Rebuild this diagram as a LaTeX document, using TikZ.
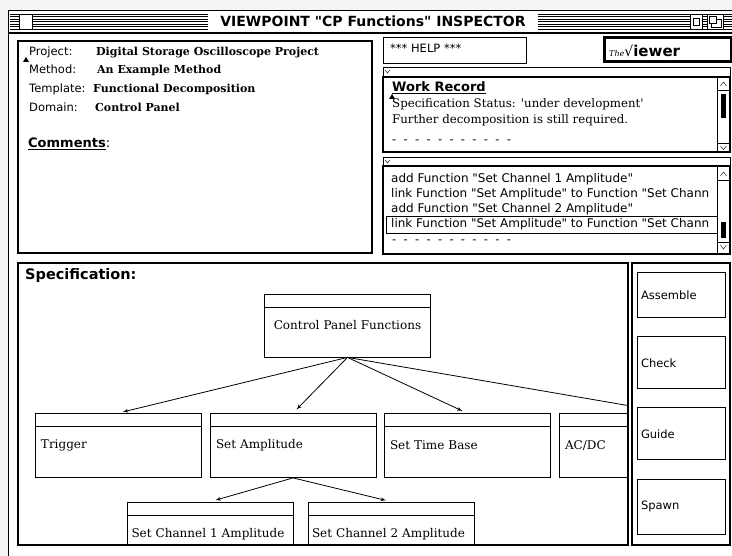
\documentclass[tikz,border=0pt]{standalone}
\usepackage{fontspec}
\setmainfont{DejaVu Serif}
\setsansfont{DejaVu Sans}
\newfontfamily\geneva{DejaVu Sans}
\newfontfamily\newyork{DejaVu Serif}
\usetikzlibrary{shapes,arrows}
\tikzstyle{func} = [rectangle, draw, line width=0.8pt, minimum width=166pt,
    minimum height=64pt, text width=154pt, inner xsep=6pt, align=left,
    font=\newyork\fontsize{12}{14}\selectfont,
    path picture={\draw ([yshift=-13pt]path picture bounding box.north west)
      -- ([yshift=-13pt]path picture bounding box.north east);}]
\tikzstyle{line} = [draw, line width=0.8pt, -latex', shorten >=5pt]
\tikzstyle{field} = [anchor=base west, inner sep=0pt,
    font=\geneva\fontsize{11.5}{14}\selectfont]
\tikzstyle{logline} = [anchor=base west, inner sep=0pt,
    font=\geneva\fontsize{12}{14}\selectfont]
\tikzstyle{entry} = [anchor=base west, inner sep=0pt,
    font=\newyork\bfseries\fontsize{11}{13}\selectfont]
\tikzstyle{note} = [anchor=base west, inner sep=0pt,
    font=\newyork\fontsize{11.8}{14}\selectfont]
\tikzstyle{heading} = [anchor=base west, inner sep=0pt,
    font=\geneva\bfseries\fontsize{13}{15}\selectfont]
\tikzstyle{btn} = [rectangle, draw, line width=1pt, minimum width=88pt,
    text width=80pt, inner xsep=4pt, align=left,
    font=\geneva\fontsize{11.5}{14}\selectfont]
\begin{document}
\begin{tikzpicture}[x=1pt, y=-1pt]
\useasboundingbox (0,0) rectangle (732,556);
\fill [gray!8] (0,0) rectangle (732,556);
\fill [white] (8,11) rectangle (732,556);
\draw [line width=1pt] (8,556) -- (8,11) -- (732,11);
\draw [line width=1.4pt] (8,33) -- (732,33);
\foreach \y in {14,16.5,...,29.5} {
  \draw [line width=0.6pt] (10,\y) -- (19,\y);
  \draw [line width=0.6pt] (32,\y) -- (208,\y);
  \draw [line width=0.6pt] (538,\y) -- (690,\y);
  \draw [line width=0.6pt] (702,\y) -- (707,\y);
  \draw [line width=0.6pt] (723,\y) -- (732,\y);
}
\draw [fill=white] (19,14) rectangle (32,29);
\draw [fill=white] (690,14) rectangle (702,29);
\draw (693,18) rectangle (699,25);
\draw [fill=white] (707,14) rectangle (723,29);
\draw (709,16) rectangle (716,23);
\draw (716,19) -- (721,19) -- (721,27) -- (711,27) -- (711,23);
\node [anchor=base, inner sep=0pt,
  font=\geneva\bfseries\fontsize{14}{16}\selectfont] (title) at (373,27)
  {VIEWPOINT "CP Functions" INSPECTOR};

\draw [line width=2pt] (18,41) rectangle (372,253);
\fill (23,62) -- (26,57) -- (29,62) -- cycle;
\node [field] (project) at (29,56) {Project:};
\node [field] (method) at (29,74) {Method:};
\node [field] (template) at (29,93) {Template:};
\node [field] (domain) at (29,112) {Domain:};
\node [entry] (projectname) at (96,56) {Digital Storage Oscilloscope Project};
\node [entry] (methodname) at (97,74) {An Example Method};
\node [entry] (templatename) at (93,93) {Functional Decomposition};
\node [entry] (domainname) at (95,112) {Control Panel};
\node [heading] (comments) at (28,148) {\underline{Comments}{\mdseries :}};

\draw [line width=0.8pt] (383,37) rectangle (526,63);
\node [field] (help) at (390,53) {*** HELP ***};
\draw [line width=3pt] (604,38) rectangle (731,62);
\node [anchor=base west, inner sep=0pt] (viewer) at (609,57)
  {{\newyork\itshape\fontsize{8}{8}\selectfont The}{\geneva\fontsize{14}{14}\selectfont √}{\geneva\bfseries\fontsize{15}{15}\selectfont iewer}};

\draw [line width=0.8pt] (383,67) rectangle (730,77);
\draw (385,70) -- (387.5,73) -- (390,70);
\draw [line width=1.6pt] (383,77) rectangle (730,152);
\draw (717,77) -- (717,152) (717,90) -- (730,90) (717,143) -- (730,143);
\draw (720.5,86) -- (723.5,82) -- (726.5,86);
\draw (720.5,146) -- (723.5,149.5) -- (726.5,146);
\fill (721,94) rectangle (726,118);
\node [heading] (workrecord) at (392,92) {\underline{Work Record}};
\fill (389,99) -- (392,94) -- (395,99) -- cycle;
\node [note] (status) at (392,108) {Specification Status: 'under development'};
\node [note] (further) at (392,124) {Further decomposition is still required.};
\node [field] (dashesa) at (392,144) {-\ \ -\ \ -\ \ -\ \ -\ \ -\ \ -\ \ -\ \ -\ \ -\ \ -};

\draw [line width=0.8pt] (383,157) rectangle (730,166);
\draw (385,160) -- (387.5,163) -- (390,160);
\draw [line width=1.6pt] (383,166) rectangle (730,254);
\draw (717,166) -- (717,254) (717,180) -- (730,180) (717,242) -- (730,242);
\draw (720.5,176) -- (723.5,172) -- (726.5,176);
\draw (720.5,245) -- (723.5,249) -- (726.5,245);
\fill (721,222) rectangle (726,238);
\node [logline] (adda) at (391,183) {add Function "Set Channel 1 Amplitude"};
\node [logline] (linka) at (391,198) {link Function "Set Amplitude" to Function "Set Chann};
\node [logline] (addb) at (391,213) {add Function "Set Channel 2 Amplitude"};
\node [logline] (linkb) at (391,228) {link Function "Set Amplitude" to Function "Set Chann};
\draw [line width=0.8pt] (386,216) rectangle (717,233);
\node [field] (dashesb) at (392,244) {-\ \ -\ \ -\ \ -\ \ -\ \ -\ \ -\ \ -\ \ -\ \ -\ \ -};

\draw [line width=1.2pt] (18,263) rectangle (628,545);
\node [heading, font=\geneva\bfseries\fontsize{14.5}{16}\selectfont] (spec) at (25,280) {Specification:};
\begin{scope}
\clip (18,263) rectangle (628,545);
\node [func, align=center, minimum height=63pt] (cpf) at (347.5,325.5) {Control Panel Functions};
\node [func] (trigger) at (118,445.5) {Trigger};
\node [func] (setamp) at (293,445.5) {Set Amplitude};
\node [func] (settime) at (467,445.5) {Set Time Base};
\node [func, text width=214pt] (acdc) at (672,445.5) {AC/DC};
\node [func, inner xsep=4pt, text width=158pt] (setchone) at (210.5,534) {Set Channel 1 Amplitude};
\node [func, inner xsep=4pt, text width=158pt] (setchtwo) at (391,534) {Set Channel 2 Amplitude};
\path [line] (cpf.south) -- (trigger.north);
\path [line] (cpf.south) -- (setamp.north);
\path [line] (cpf.south) -- (settime.north);
\path [line] (cpf.south) -- (acdc.north);
\path [line] (setamp.south) -- (setchone.north);
\path [line] (setamp.south) -- (setchtwo.north);
\end{scope}

\draw [line width=1.2pt] (632,263) rectangle (730,545);
\node [btn, minimum height=45pt] (assemble) at (681,295.5) {Assemble};
\node [btn, minimum height=52pt] (check) at (681,363) {Check};
\node [btn, minimum height=52pt] (guide) at (681,434) {Guide};
\node [btn, minimum height=55pt] (spawn) at (681,506.5) {Spawn};
\end{tikzpicture}
\end{document}
